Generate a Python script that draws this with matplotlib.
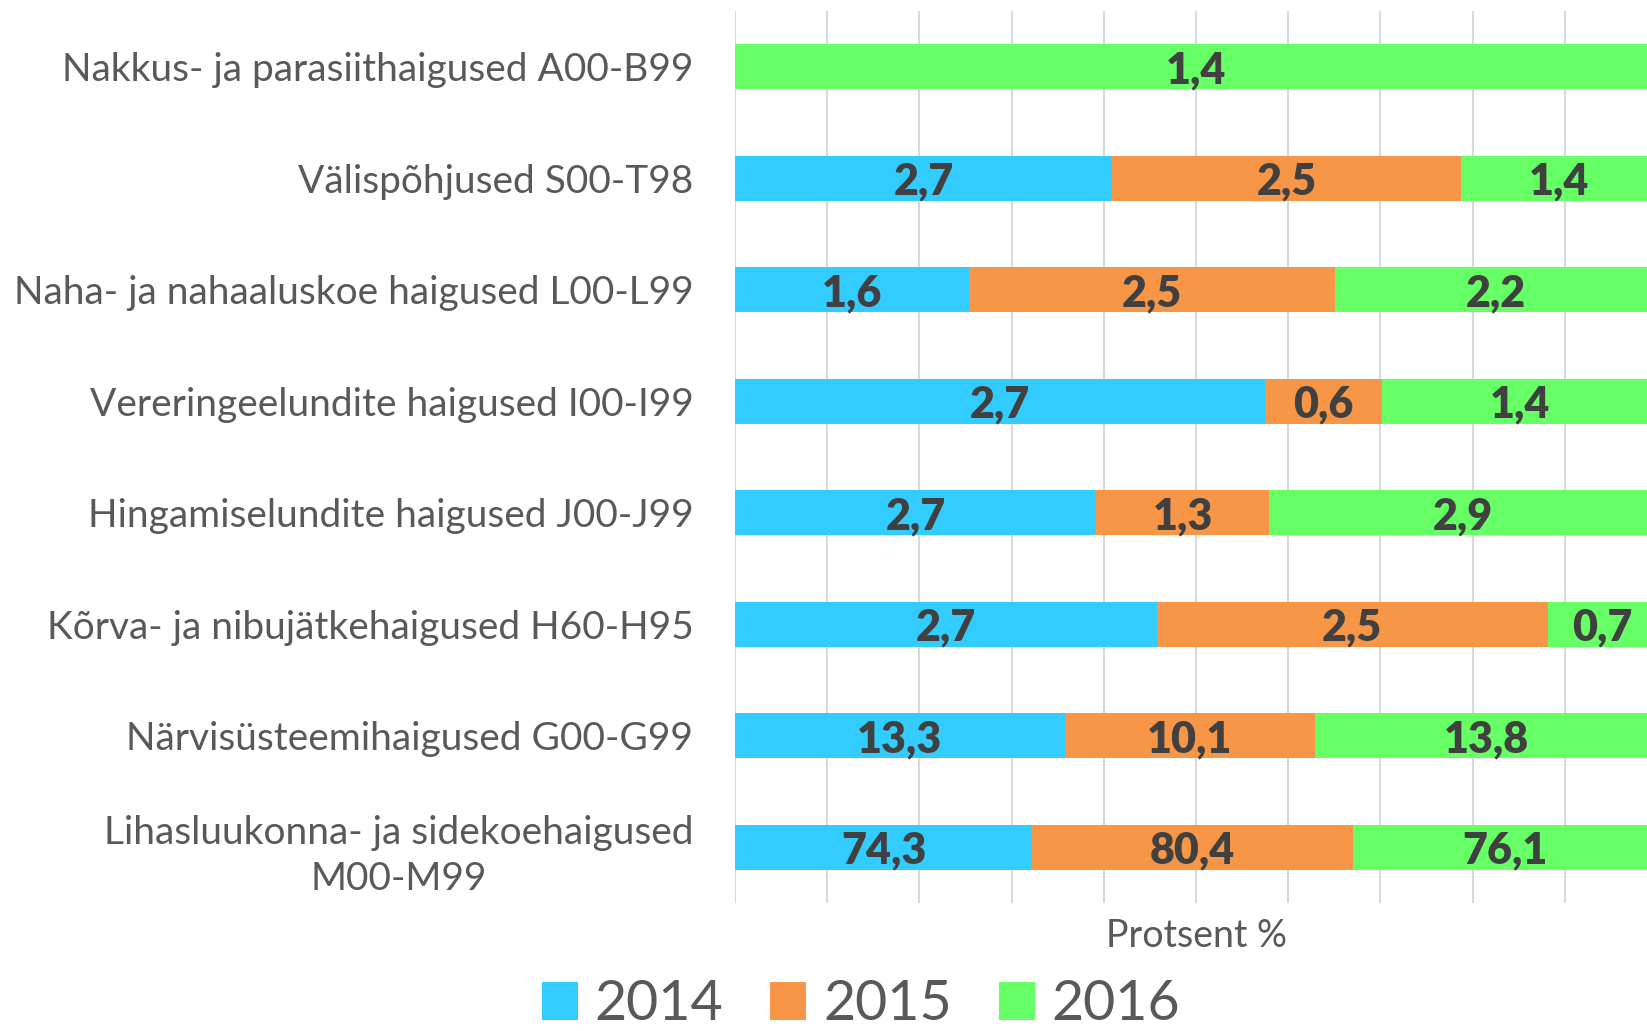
import matplotlib
matplotlib.use("Agg")
import matplotlib.pyplot as plt
import numpy as np

categories = [
    "Nakkus- ja parasiithaigused A00-B99",
    "Välispõhjused S00-T98",
    "Naha- ja nahaaluskoe haigused L00-L99",
    "Vereringeelundite haigused I00-I99",
    "Hingamiselundite haigused J00-J99",
    "Kõrva- ja nibujätkehaigused H60-H95",
    "Närvisüsteemihaigused G00-G99",
    "Lihasluukonna- ja sidekoehaigused\nM00-M99",
]
years = ["2014", "2015", "2016"]
v2014 = [0, 2.7, 1.6, 2.7, 2.7, 2.7, 13.3, 74.3]
v2015 = [0, 2.5, 2.5, 0.6, 1.3, 2.5, 10.1, 80.4]
v2016 = [1.4, 1.4, 2.2, 1.4, 2.9, 0.7, 13.8, 76.1]
colors = ["#33CCFF", "#F79646", "#66FF66"]

plt.rcParams['font.family'] = ['Lato', 'DejaVu Sans']

fig = plt.figure(figsize=(16.47, 10.31), dpi=100)
ax = fig.add_axes([735 / 1647, 1 - 903 / 1031, 922 / 1647, 892 / 1031])

vals = np.array([v2014, v2015, v2016], dtype=float)
totals = vals.sum(axis=0)
pct = vals / totals * 100
y = np.arange(len(categories))

left = np.zeros(len(categories))
for i in range(3):
    ax.barh(y, pct[i], left=left, height=0.4, color=colors[i], label=years[i], zorder=2)
    for j in range(len(categories)):
        if vals[i, j] > 0:
            ax.text(left[j] + pct[i, j] / 2, y[j] + 0.03, f"{vals[i, j]:.1f}".replace(".", ","),
                    ha="center", va="center", fontsize=31, fontweight="heavy", color="#404040", zorder=3)
    left += pct[i]

ax.set_xlim(0, 100)
ax.set_ylim(len(categories) - 0.5, -0.5)
ax.set_xticks(np.arange(0, 101, 10))
ax.set_xticklabels([])
ax.set_yticks(y)
ax.set_yticklabels(categories, fontsize=28, color="#595959", multialignment="center",
                   linespacing=1.35)
ax.tick_params(axis="both", length=0)
ax.tick_params(axis="y", pad=30)
ax.grid(axis="x", color="#D9D9D9", linewidth=1.5, zorder=0)
for s in ax.spines.values():
    s.set_visible(False)

fig.text(1196 / 1647, 1 - 936 / 1031, "Protsent %", ha="center", va="center", fontsize=27, color="#595959")

handles, labels = ax.get_legend_handles_labels()
fig.legend(handles, labels, loc="center", bbox_to_anchor=(861 / 1647, 1 - 1005 / 1031), ncol=3,
           frameon=False, fontsize=40, labelcolor="#595959", handlelength=0.65, handleheight=0.65,
           handletextpad=0.3, columnspacing=0.85, borderpad=0.1)

fig.savefig("out.png", dpi=100)
